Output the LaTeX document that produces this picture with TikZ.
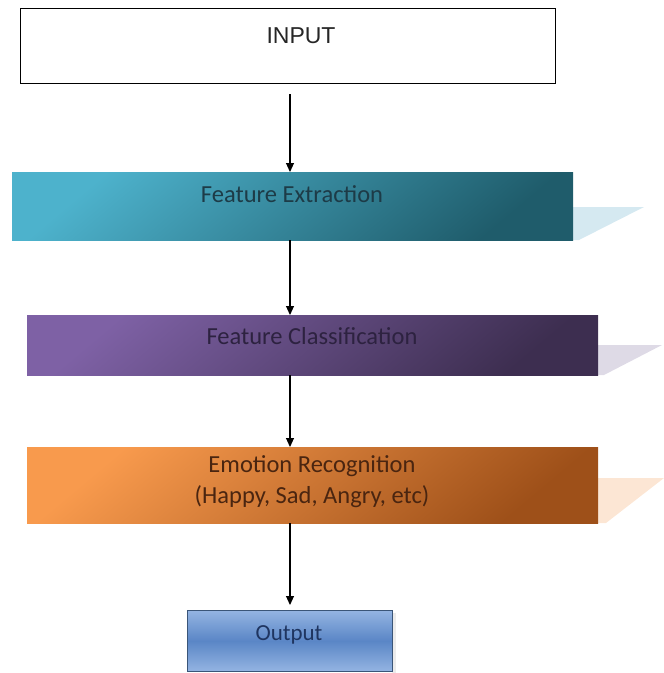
\documentclass[tikz,border=0pt]{standalone}
\usepackage{fontspec}
\setmainfont{Carlito}
\newfontfamily\arialfont{Liberation Sans}
\usetikzlibrary{arrows.meta}
\definecolor{feA}{HTML}{4DB2CC}
\definecolor{feB}{HTML}{1F5C6B}
\definecolor{feT}{HTML}{1D3B47}
\definecolor{feS}{HTML}{D5E9F1}
\definecolor{clA}{HTML}{7E61A5}
\definecolor{clB}{HTML}{3D2E50}
\definecolor{clT}{HTML}{2D2240}
\definecolor{clS}{HTML}{DEDAE6}
\definecolor{emA}{HTML}{F89A4D}
\definecolor{emB}{HTML}{9E5019}
\definecolor{emT}{HTML}{4A2510}
\definecolor{emS}{HTML}{FCE6D4}
\definecolor{outA}{HTML}{94B4E2}
\definecolor{outM}{HTML}{5A86C6}
\definecolor{outT}{HTML}{1F3560}
\definecolor{outL}{HTML}{3A5578}
\tikzset{
  boxbase/.style={rectangle, inner sep=0pt, anchor=north west},
  stagebox/.style={boxbase},
  boxtext/.style={font=\fontsize{24.5}{31}\selectfont, align=center, inner sep=0pt},
  arr/.style={draw=black, line width=1.1pt, -{Triangle[length=9pt,width=8pt]}},
}
\begin{document}
\begin{tikzpicture}[x=1pt,y=-1pt]
\useasboundingbox (0,0) rectangle (664,673);
\coordinate (col) at (290,0);
% INPUT
\node[boxbase, draw=black, line width=1.3pt, minimum width=535pt, minimum height=75pt] (in) at (20,8) {};
\node[font=\arialfont\fontsize{23}{27}\selectfont, text=black!85] (intxt) at (301,36) {INPUT};
% Feature Extraction
\fill[feS] (573,207) -- (644,207) -- (579,240) -- (573,240) -- cycle;
\node[stagebox, top color=feA, bottom color=feB, shading angle=40, minimum width=561pt, minimum height=68pt] (fe) at (12,172) {};
\node[boxtext, text=feT] (fetxt) at (292,194) {Feature Extraction};
% Feature Classification
\fill[clS] (598,345) -- (662,345) -- (604,375) -- (598,375) -- cycle;
\node[stagebox, top color=clA, bottom color=clB, shading angle=40, minimum width=571pt, minimum height=60pt] (cl) at (27,315) {};
\node[boxtext, text=clT] (cltxt) at (312,336) {Feature Classification};
% Emotion Recognition
\fill[emS] (598,478) -- (664,478) -- (606,523) -- (598,523) -- cycle;
\node[stagebox, top color=emA, bottom color=emB, shading angle=40, minimum width=571pt, minimum height=76pt] (em) at (27,447) {};
\node[boxtext, text=emT] (emtxt) at (312,482) {Emotion Recognition\\(Happy, Sad, Angry, etc)};
% Output
\fill[black!8] (392,613) rectangle (396,673);
\node[boxbase, draw=outL, line width=0.9pt, top color=outA, bottom color=outA, middle color=outM, minimum width=205pt, minimum height=61pt] (out) at (187,610) {};
\node[boxtext, font=\fontsize{23}{27}\selectfont, text=outT] (outtxt) at (289,635) {Output};
% connectors
\draw[arr] ([yshift=-10pt]in.south -| col) -- (fe.north -| col);
\draw[arr] (fe.south -| col) -- (cl.north -| col);
\draw[arr] (cl.south -| col) -- (em.north -| col);
\draw[arr] (em.south -| col) -- ([yshift=5pt]out.north -| col);
\end{tikzpicture}
\end{document}
